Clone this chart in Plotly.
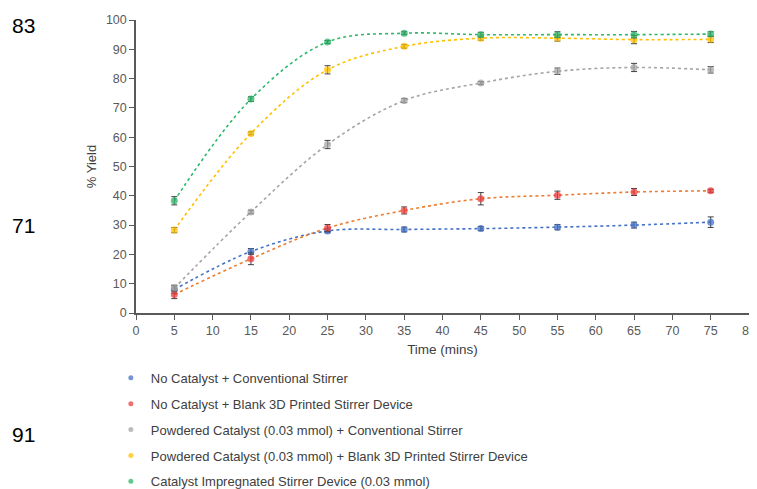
import plotly.graph_objects as go

time_mins = [5, 15, 25, 35, 45, 55, 65, 75]

series_names = [
    "No Catalyst + Conventional Stirrer",
    "No Catalyst + Blank 3D Printed Stirrer Device",
    "Powdered Catalyst (0.03 mmol) + Conventional Stirrer",
    "Powdered Catalyst (0.03 mmol) + Blank 3D Printed Stirrer Device",
    "Catalyst Impregnated Stirrer Device (0.03 mmol)",
]

no_cat_conv = [8.0, 21.0, 28.0, 28.5, 28.8, 29.3, 30.0, 31.0]
no_cat_conv_err = [1.3, 1.0, 0.6, 0.8, 0.7, 0.9, 1.0, 1.8]

no_cat_blank = [6.3, 18.5, 29.0, 35.0, 39.0, 40.2, 41.3, 41.7]
no_cat_blank_err = [1.4, 2.0, 1.2, 1.2, 2.1, 1.4, 1.2, 0.5]

powder_conv = [8.5, 34.5, 57.5, 72.5, 78.5, 82.5, 83.8, 83.0]
powder_conv_err = [1.0, 0.6, 1.4, 0.7, 0.5, 1.1, 1.4, 1.1]

powder_blank = [28.3, 61.3, 83.0, 91.0, 93.8, 93.8, 93.3, 93.4]
powder_blank_err = [0.9, 0.5, 1.4, 0.6, 0.7, 1.0, 1.4, 1.1]

impregnated = [38.3, 73.0, 92.5, 95.5, 95.0, 95.0, 95.0, 95.2]
impregnated_err = [1.4, 0.8, 0.5, 0.5, 0.8, 1.0, 1.1, 0.8]

y_values = [no_cat_conv, no_cat_blank, powder_conv, powder_blank, impregnated]
y_errors = [no_cat_conv_err, no_cat_blank_err, powder_conv_err, powder_blank_err, impregnated_err]

marker_colors = ["#4472C4", "#F03C3C", "#A5A5A5", "#FFC000", "#2DB86A"]
line_colors = ["#4472C4", "#ED7D31", "#A5A5A5", "#FFC000", "#2DB86A"]

stray_labels = ["83", "71", "91"]

font_family = "Liberation Sans, Arial, sans-serif"
axis_color = "#595959"

fig = go.Figure()

# smoothed dotted connecting lines
for name, ys, lc in zip(series_names, y_values, line_colors):
    fig.add_trace(go.Scatter(
        x=time_mins, y=ys, mode="lines", showlegend=False, hoverinfo="skip",
        line=dict(color=lc, width=1.6, dash="dot", shape="spline", smoothing=1.0),
    ))
# markers with error bars
for name, ys, errs, mc in zip(series_names, y_values, y_errors, marker_colors):
    fig.add_trace(go.Scatter(
        x=time_mins, y=ys, mode="markers", name=name, showlegend=False,
        marker=dict(color=mc, size=7, opacity=0.75),
        error_y=dict(type="data", array=errs, visible=True, color="#404040", thickness=1, width=3),
    ))
# legend entries (small dots)
for name, mc in zip(series_names, marker_colors):
    fig.add_trace(go.Scatter(
        x=[None], y=[None], mode="markers", name=name, showlegend=True,
        legendgroup=name,
        marker=dict(color=mc, size=5, opacity=0.75),
    ))

fig.update_layout(
    width=757, height=481,
    margin=dict(l=128, r=16, t=12, b=176, autoexpand=False),
    paper_bgcolor="white", plot_bgcolor="white",
    font=dict(family=font_family, size=12.5, color=axis_color),
    showlegend=True,
    legend=dict(
        x=-0.041, y=-0.17, xanchor="left", yanchor="top",
        font=dict(family=font_family, size=13, color="#404040"),
        tracegroupgap=6, itemwidth=30,
    ),
    xaxis=dict(
        range=[0, 80], dtick=5, tick0=0, showgrid=False, zeroline=False,
        showline=True, linecolor=axis_color, linewidth=1.5,
        ticks="outside", ticklen=5, tickcolor=axis_color, ticklabeloverflow="allow",
        title=dict(text="Time (mins)", font=dict(size=13.5, color="#404040"), standoff=8),
    ),
    yaxis=dict(
        range=[0, 100], dtick=10, showgrid=False, zeroline=False,
        showline=True, linecolor=axis_color, linewidth=1.5,
        ticks="outside", ticklen=5, tickcolor=axis_color,
        title=dict(text="% Yield", font=dict(size=13, color="#404040"), standoff=6),
    ),
)

stray_pos = [(-0.183, 0.980), (-0.183, 0.297), (-0.183, -0.416)]
for txt, (px, py) in zip(stray_labels, stray_pos):
    fig.add_annotation(text=txt, xref="paper", yref="paper", x=px, y=py,
                       xanchor="center", yanchor="middle",
                       showarrow=False, font=dict(family=font_family, size=21, color="black"))

fig.write_html("out.html")
